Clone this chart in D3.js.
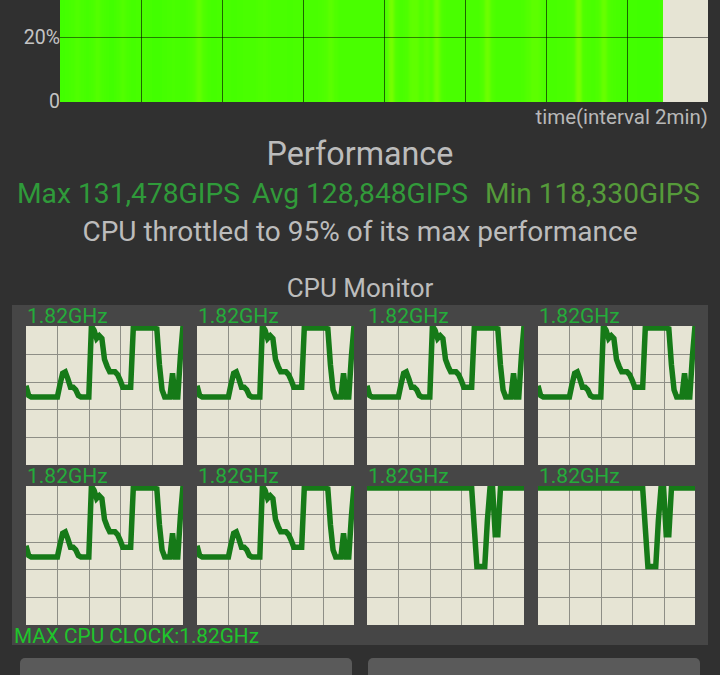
<!DOCTYPE html>
<html>
<head>
<meta charset="utf-8">
<script src="https://cdn.jsdelivr.net/npm/d3@7"></script>
<style>
  html, body { margin: 0; padding: 0; background: #303030; overflow: hidden; }
  svg { display: block; font-family: Roboto, sans-serif; }
</style>
</head>
<body>
<svg id="chart" width="720" height="675"></svg>
<script>
// performance over time, one sample per stripe (% of max)
const perfValues = [
  99.4, 99.2, 98.8, 98.0, 98.8, 99.2, 98.6, 97.5, 98.6, 99.2, 99.4, 98.8, 97.8, 98.8,
  99.2, 99.0, 98.6, 99.0, 99.4, 99.4, 99.2, 99.0, 98.8, 99.0, 99.2, 98.8, 98.0, 96.0, 98.0,
  99.0, 99.2, 99.0, 98.8, 99.0, 99.2, 99.0, 98.8, 98.8, 98.6, 98.2, 98.0, 98.4, 98.8, 98.6,
  98.8, 99.0, 98.8, 98.6, 98.8, 98.8, 98.6, 98.4, 98.0, 96.8, 98.0, 98.6, 98.8, 98.8, 98.6,
  98.8, 98.8, 98.6, 98.8, 98.6, 98.4, 94.0, 98.0, 98.6, 98.2, 96.6, 96.6, 98.0, 96.8, 98.0,
  94.5, 98.0, 98.6, 98.8, 98.8, 98.8, 98.8, 98.6, 98.6, 98.0, 95.0, 98.0, 98.6, 98.8, 98.8,
  98.8, 98.6, 98.4, 97.8, 96.8, 96.8, 98.0, 98.8, 99.0, 98.8, 98.8, 98.4, 98.0, 93.5, 98.0,
  98.4, 98.6, 98.0, 95.5, 98.0, 98.8, 99.0, 99.2, 99.4, 99.4, 99.6, 99.6, 99.6, 99.6
]
const perfTicks = [{ value: 0, label: "0" }, { value: 20, label: "20%" }]
const perfGridSteps = [16, 32, 48, 64, 80, 96, 112]

const statLabels = ["Max 131,478GIPS", "Avg 128,848GIPS", "Min 118,330GIPS"]

// cpu clock as % of 1.82GHz, one sample per step on the monitor
const clockBusy = [
  57, 50, 49, 49, 49, 49, 49, 49, 49, 49, 49, 49, 49, 58, 66, 67, 62, 56, 56, 54,
  50, 49, 49, 49, 49, 100, 97, 91, 93, 91, 76, 71, 67, 67, 67, 65, 61, 56, 56, 56,
  56, 98.5, 98.5, 98.5, 98.5, 98.5, 98.5, 98.5, 98.5, 98.5, 98, 72, 54, 49, 49, 49, 66, 49, 49, 78, 100
]
const clockIdle = [
  98.5, 98.5, 98.5, 98.5, 98.5, 98.5, 98.5, 98.5, 98.5, 98.5, 98.5, 98.5, 98.5, 98.5, 98.5, 98.5, 98.5, 98.5, 98.5, 98.5,
  98.5, 98.5, 98.5, 98.5, 98.5, 98.5, 98.5, 98.5, 98.5, 98.5, 98.5, 98.5, 98.5, 98.5, 98.5, 98.5, 98.5, 98.5, 98.5, 98.5,
  98.5, 70, 42, 42, 42, 42, 75, 98.5, 98.5, 65, 65, 98.5, 98.5, 98.5, 98.5, 98.5, 98.5, 98.5, 98.5, 98.5, 98.5
]
const coreClocks = [clockBusy, clockBusy, clockBusy, clockBusy, clockBusy, clockBusy, clockIdle, clockIdle]
const coreLabels = ["1.82GHz", "1.82GHz", "1.82GHz", "1.82GHz", "1.82GHz", "1.82GHz", "1.82GHz", "1.82GHz"]

const svg = d3.select("#chart")
const defs = svg.append("defs")

const cream = "#e6e4d4"

// ---- top performance chart, cut off by the top of the window
const perfX = d3.scaleLinear().domain([0, 119.1]).range([60, 663])
const perfY = d3.scaleLinear().domain([0, 20]).range([102, 37.5])
const perfColor = d3.scaleLinear().domain([100, 94]).range(["#3cff00", "#78ff00"])
const stepPx = perfX(1) - perfX(0)

defs.append("clipPath").attr("id", "perfClip")
  .append("rect").attr("x", 60).attr("y", 0).attr("width", 603).attr("height", 102)
defs.append("filter").attr("id", "soft")
  .attr("x", "-20%").attr("width", "140%")
  .append("feGaussianBlur").attr("stdDeviation", "1.6 0")

svg.append("rect")
  .attr("x", 60).attr("y", 0).attr("width", 648).attr("height", 102)
  .attr("fill", cream)

// backing so the blur does not fade out at both ends of the run
svg.append("rect")
  .attr("x", 60).attr("y", 0).attr("width", 603).attr("height", 102)
  .attr("fill", perfColor(99.4))

svg.append("g")
  .attr("clip-path", "url(#perfClip)")
  .append("g")
  .attr("filter", "url(#soft)")
  .selectAll("rect")
  .data(perfValues)
  .enter()
  .append("rect")
  .attr("x", (d, i) => perfX(i) - 0.3)
  .attr("y", (d) => perfY(d))
  .attr("width", stepPx + 0.6)
  .attr("height", (d) => perfY(0) - perfY(d))
  .attr("fill", (d) => perfColor(d))

svg.append("g")
  .selectAll("line")
  .data(perfGridSteps)
  .enter()
  .append("line")
  .attr("x1", (d) => Math.round(perfX(d)) + 0.5)
  .attr("x2", (d) => Math.round(perfX(d)) + 0.5)
  .attr("y1", 0)
  .attr("y2", 102)
  .attr("stroke", "rgba(0,0,0,.6)")

svg.append("line")
  .attr("x1", 60).attr("x2", 708)
  .attr("y1", perfY(20)).attr("y2", perfY(20))
  .attr("stroke", "rgba(0,0,0,.5)")

svg.append("g")
  .selectAll("text")
  .data(perfTicks)
  .enter()
  .append("text")
  .attr("x", 60)
  .attr("y", (d) => perfY(d.value) + 6)
  .attr("text-anchor", "end")
  .attr("font-size", 19.5)
  .attr("fill", "#c4c4c4")
  .text((d) => d.label)

svg.append("text")
  .attr("x", 708).attr("y", 124)
  .attr("text-anchor", "end")
  .attr("font-size", 20.5)
  .attr("fill", "#b8b8b8")
  .text("time(interval 2min)")

// ---- headings
svg.append("text")
  .attr("x", 360).attr("y", 164.5)
  .attr("text-anchor", "middle")
  .attr("font-size", 32.3)
  .attr("fill", "#bcbcbc")
  .text("Performance")

const statX = [17, 252, 485]
const statWidth = [223, 216, 215]
const statColor = ["#2f9a3a", "#329a3a", "#559a3a"]
svg.append("g")
  .selectAll("text")
  .data(statLabels)
  .enter()
  .append("text")
  .attr("x", (d, i) => statX[i])
  .attr("y", 202.5)
  .attr("font-size", 27)
  .attr("textLength", (d, i) => statWidth[i])
  .attr("lengthAdjust", "spacingAndGlyphs")
  .attr("fill", (d, i) => statColor[i])
  .text((d) => d)

svg.append("text")
  .attr("x", 360).attr("y", 241)
  .attr("text-anchor", "middle")
  .attr("font-size", 28)
  .attr("fill", "#bcbcbc")
  .text("CPU throttled to 95% of its max performance")

svg.append("text")
  .attr("x", 360).attr("y", 297)
  .attr("text-anchor", "middle")
  .attr("font-size", 26)
  .attr("fill", "#bcbcbc")
  .text("CPU Monitor")

// ---- cpu monitor
svg.append("rect")
  .attr("x", 12).attr("y", 305).attr("width", 696).attr("height", 340)
  .attr("fill", "#464646")

const coreW = 157
const coreH = 139
const coreLeft = [26, 197, 367, 538]
const coreTop = [326, 486]

const coreX = d3.scaleLinear().domain([0, 60]).range([0, coreW])
const coreY = d3.scaleLinear().domain([0, 100]).range([coreH, 0])
const coreLine = d3.line().x((d, i) => coreX(i)).y((d) => coreY(d))

defs.append("clipPath").attr("id", "coreClip")
  .append("rect").attr("width", coreW).attr("height", coreH)

const core = svg.append("g")
  .selectAll("g")
  .data(coreClocks)
  .enter()
  .append("g")
  .attr("transform", (d, i) => `translate(${coreLeft[i % 4]},${coreTop[Math.floor(i / 4)]})`)

core.append("rect")
  .attr("width", coreW).attr("height", coreH)
  .attr("fill", cream)

core.selectAll(".vgrid")
  .data(d3.range(12, 60, 12))
  .enter()
  .append("line")
  .attr("class", "vgrid")
  .attr("x1", (d) => Math.round(coreX(d)) + 0.5)
  .attr("x2", (d) => Math.round(coreX(d)) + 0.5)
  .attr("y1", 0).attr("y2", coreH)
  .attr("stroke", "#8e8e86")

core.selectAll(".hgrid")
  .data([20, 40, 60, 80])
  .enter()
  .append("line")
  .attr("class", "hgrid")
  .attr("x1", 0).attr("x2", coreW)
  .attr("y1", (d) => Math.round(coreY(d)) + 0.5)
  .attr("y2", (d) => Math.round(coreY(d)) + 0.5)
  .attr("stroke", "#8e8e86")

core.append("path")
  .attr("d", (d) => coreLine(d))
  .attr("clip-path", "url(#coreClip)")
  .attr("fill", "none")
  .attr("stroke", "#167a18")
  .attr("stroke-width", 5.5)

core.append("text")
  .attr("x", 1).attr("y", -3)
  .attr("font-size", 21)
  .attr("fill", "#24ac3a")
  .text((d, i) => coreLabels[i])

svg.append("text")
  .attr("x", 14).attr("y", 643)
  .attr("font-size", 21)
  .attr("textLength", 245)
  .attr("lengthAdjust", "spacingAndGlyphs")
  .attr("fill", "#1fc42c")
  .text("MAX CPU CLOCK:1.82GHz")

// ---- the two buttons cut off at the bottom
svg.append("g")
  .selectAll("rect")
  .data([20, 368])
  .enter()
  .append("rect")
  .attr("x", (d) => d)
  .attr("y", 658)
  .attr("width", 332)
  .attr("height", 40)
  .attr("rx", 5)
  .attr("fill", "#5a5a5a")
</script>
</body>
</html>
